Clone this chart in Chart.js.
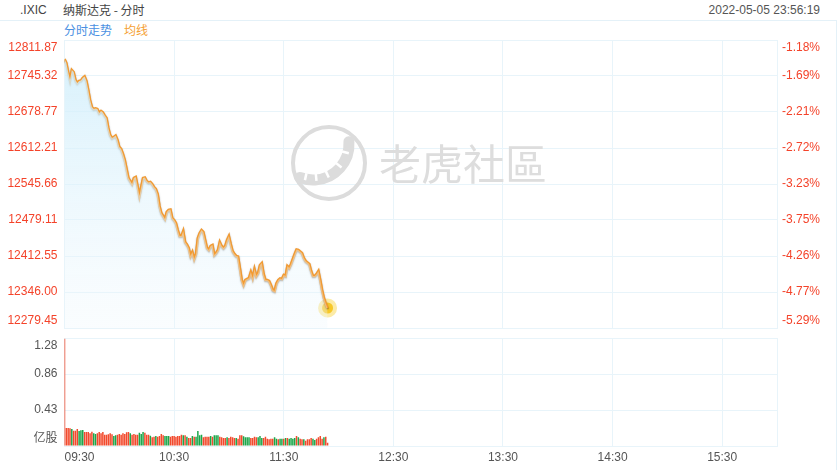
<!DOCTYPE html>
<html>
<head>
<meta charset="utf-8">
<script src="https://cdn.jsdelivr.net/npm/chart.js@4.4.0/dist/chart.umd.min.js"></script>
<style>
  body { margin: 0; background: #fff; width: 840px; height: 470px; overflow: hidden; position: relative;
         font-family: 'Liberation Sans', Arial, 'Noto Sans CJK SC', sans-serif; font-size: 12px; }
  .txt { position: absolute; white-space: nowrap; line-height: 14px; }
  #frame { position: absolute; left: -1px; top: 20px; width: 838px; height: 460px; border: 1px solid #e4f1f8; box-sizing: border-box; }
  canvas { position: absolute; left: 0; top: 0; }
</style>
</head>
<body>
<div id="frame"></div>
<div class="txt" style="left:20px; top:3px; color:#444;">.IXIC</div>
<div class="txt" style="left:63px; top:3px; color:#444; font-family:'Noto Sans CJK SC', sans-serif;">纳斯达克 - 分时</div>
<div class="txt" style="right:20px; top:3px; color:#555;">2022-05-05 23:56:19</div>
<div class="txt" style="left:64px; top:23px; color:#4a90e2; font-family:'Noto Sans CJK SC', sans-serif;">分时走势</div>
<div class="txt" style="left:124px; top:23px; color:#f5a133; font-family:'Noto Sans CJK SC', sans-serif;">均线</div>
<canvas id="price" width="840" height="470"></canvas>
<canvas id="vol" width="840" height="470"></canvas>
<script>
// 时间轴 (分钟, 09:30 = 0)
const timeTickMinutes = [0, 60, 120, 180, 240, 300, 360, 390];
const timeLabels = ['09:30', '10:30', '11:30', '12:30', '13:30', '14:30', '15:30', ''];

const priceTicks = ['12811.87', '12745.32', '12678.77', '12612.21', '12545.66', '12479.11', '12412.55', '12346.00', '12279.45'];
const pctTicks = ['-1.18%', '-1.69%', '-2.21%', '-2.72%', '-3.23%', '-3.75%', '-4.26%', '-4.77%', '-5.29%'];

const volTicks = [1.29, 0.86, 0.43, 0];
const volTickLabels = ['1.28', '0.86', '0.43', '亿股'];

// 每分钟价格
const price = [
  12776.8, 12769.4, 12752.7, 12737.9, 12756.4, 12752.7, 12737.9, 12732.4, 12736.1, 12737.0,
  12741.6, 12744.4, 12736.1, 12719.4, 12700.9, 12688.0, 12684.3, 12685.3, 12684.3, 12676.9,
  12680.6, 12677.9, 12672.3, 12667.7, 12649.2, 12636.2, 12630.7, 12632.5, 12635.3, 12627.0,
  12614.1, 12610.4, 12601.1, 12590.0, 12573.4, 12556.8, 12551.2, 12545.7, 12556.8, 12558.6,
  12542.0, 12523.5, 12540.1, 12556.8, 12557.7, 12551.2, 12548.5, 12549.4, 12545.7, 12540.1,
  12536.4, 12527.2, 12505.0, 12492.1, 12486.5, 12481.0, 12493.9, 12497.6, 12498.5, 12482.8,
  12479.1, 12473.6, 12460.6, 12449.6, 12449.6, 12458.8, 12438.5, 12433.8, 12427.4, 12412.6,
  12420.0, 12407.0, 12416.3, 12445.9, 12455.1, 12460.6, 12457.0, 12442.2, 12427.4, 12423.7,
  12431.1, 12432.9, 12414.4, 12418.1, 12423.7, 12438.5, 12431.1, 12427.4, 12431.1, 12442.2,
  12449.6, 12434.8, 12421.8, 12416.3, 12412.6, 12411.7, 12390.4, 12368.2, 12359.0, 12368.2,
  12370.1, 12371.9, 12383.0, 12371.9, 12388.5, 12375.6, 12381.2, 12395.9, 12399.6, 12379.3,
  12368.2, 12368.2, 12366.4, 12359.0, 12349.7, 12347.9, 12361.7, 12368.2, 12371.0, 12370.1,
  12377.5, 12375.6, 12394.1, 12390.4, 12397.8, 12407.0, 12416.3, 12424.6, 12423.7, 12420.9,
  12418.1, 12408.9, 12403.3, 12400.6, 12397.8, 12384.9, 12375.6, 12375.6, 12379.3, 12384.9,
  12368.2, 12349.7, 12334.9, 12324.8, 12316.4
];

// 每分钟成交量 (亿股)
const volume = [
  1.28, 0.215, 0.215, 0.211, 0.203, 0.183, 0.183, 0.203, 0.179, 0.187,
  0.191, 0.167, 0.167, 0.167, 0.151, 0.171, 0.151, 0.143, 0.151, 0.167,
  0.151, 0.167, 0.135, 0.135, 0.139, 0.151, 0.139, 0.119, 0.127, 0.135,
  0.143, 0.135, 0.151, 0.143, 0.163, 0.167, 0.151, 0.135, 0.143, 0.135,
  0.135, 0.159, 0.143, 0.167, 0.159, 0.135, 0.135, 0.123, 0.104, 0.111,
  0.119, 0.111, 0.119, 0.143, 0.127, 0.119, 0.119, 0.119, 0.111, 0.119,
  0.119, 0.111, 0.119, 0.119, 0.135, 0.127, 0.127, 0.111, 0.096, 0.096,
  0.119, 0.111, 0.111, 0.179, 0.127, 0.135, 0.104, 0.111, 0.111, 0.111,
  0.119, 0.111, 0.127, 0.127, 0.127, 0.111, 0.104, 0.096, 0.096, 0.104,
  0.096, 0.111, 0.104, 0.096, 0.096, 0.088, 0.127, 0.127, 0.115, 0.104,
  0.104, 0.104, 0.096, 0.096, 0.111, 0.104, 0.104, 0.119, 0.096, 0.096,
  0.111, 0.088, 0.080, 0.088, 0.088, 0.104, 0.088, 0.080, 0.088, 0.088,
  0.088, 0.096, 0.096, 0.088, 0.096, 0.088, 0.096, 0.119, 0.104, 0.088,
  0.080, 0.080, 0.064, 0.080, 0.080, 0.096, 0.088, 0.072, 0.088, 0.104,
  0.119, 0.088, 0.104, 0.111, 0.040
];

// 涨跌方向 u = 涨(红), d = 跌(绿)
const volDir = [
  'u','u','u','u','d','u','u','u','d','d',
  'd','u','u','u','u','u','d','d','u','u',
  'u','u','u','u','u','u','u','d','d','u',
  'u','u','u','u','u','u','d','u','u','u',
  'u','d','d','d','u','u','u','d','u','u',
  'd','u','u','u','u','d','d','d','u','u',
  'u','u','u','u','u','d','u','d','u','u',
  'd','u','d','d','d','d','u','u','u','u',
  'd','u','d','d','d','u','u','u','u','d',
  'u','u','u','u','d','u','u','u','d','d',
  'd','d','u','u','u','u','d','d','d','u',
  'u','u','u','u','u','d','d','u','d','d',
  'u','d','u','d','d','d','d','u','d','u',
  'u','d','u','u','u','u','d','d','u','u',
  'u','u','d','u','u'
];

const RED = '#f24a2d';
const GREEN = '#1ca64a';
const GRID = '#e8f4fa';
const PRICE_RED = '#f4432a';

const priceMin = parseFloat(priceTicks[priceTicks.length - 1]);
const priceMax = parseFloat(priceTicks[0]);

// 首尾标签上下错开
function edgeLabel(label, i, n) {
  if (i === 0) return [label, ''];
  if (i === n - 1) return ['', label];
  return label;
}

// 老虎社區 水印
const watermark = {
  id: 'watermark',
  beforeDatasetsDraw(chart) {
    const ctx = chart.ctx;
    ctx.save();
    ctx.strokeStyle = '#dcdcdc';
    ctx.lineWidth = 4;
    ctx.beginPath();
    ctx.arc(329, 163, 36, 0, Math.PI * 2);
    ctx.stroke();
    // 尾巴
    ctx.lineWidth = 11;
    ctx.lineCap = 'round';
    ctx.beginPath();
    ctx.arc(313, 144, 36, -Math.PI * 0.02, Math.PI * 0.62);
    ctx.stroke();
    ctx.strokeStyle = '#fff';
    ctx.lineWidth = 2.5;
    ctx.lineCap = 'butt';
    [0.08, 0.22, 0.36, 0.47, 0.57].forEach(f => {
      const a = Math.PI * f;
      ctx.beginPath();
      ctx.moveTo(313 + Math.cos(a) * 30, 144 + Math.sin(a) * 30);
      ctx.lineTo(313 + Math.cos(a) * 37, 144 + Math.sin(a) * 37);
      ctx.stroke();
    });
    ctx.fillStyle = '#dddddd';
    ctx.font = '42px "Noto Sans CJK SC", sans-serif';
    ctx.textBaseline = 'middle';
    ctx.fillText('老虎社區', 379, 164);
    ctx.restore();
  }
};

const lineShadow = {
  id: 'lineShadow',
  beforeDatasetDraw(chart, args) {
    if (args.index !== 1) return;
    const ctx = chart.ctx;
    ctx.save();
    ctx.shadowColor = 'rgba(60,60,60,0.55)';
    ctx.shadowBlur = 1.5;
    ctx.shadowOffsetY = 1;
  },
  afterDatasetDraw(chart, args) {
    if (args.index !== 1) return;
    chart.ctx.restore();
  }
};

const xy = price.map((p, i) => ({ x: i, y: p }));
const last = price.length - 1;

new Chart(document.getElementById('price'), {
  type: 'line',
  data: {
    datasets: [
      {
        data: xy, borderWidth: 0, pointRadius: 0, fill: 'start',
        backgroundColor: (c) => {
          const { ctx, chartArea } = c.chart;
          if (!chartArea) return 'transparent';
          const g = ctx.createLinearGradient(0, chartArea.top, 0, chartArea.bottom);
          g.addColorStop(0, 'rgba(205,237,251,0.85)');
          g.addColorStop(1, 'rgba(238,248,253,0.3)');
          return g;
        }
      },
      { data: xy, borderColor: '#f39a30', borderWidth: 2.6, pointRadius: 0, tension: 0, fill: false },
      {
        data: [{ x: last, y: price[last] }], showLine: false,
        pointRadius: 5.5, pointBackgroundColor: '#f5b800',
        pointBorderColor: 'rgba(250,215,80,0.5)', pointBorderWidth: 8
      }
    ]
  },
  options: {
    responsive: false, animation: false,
    layout: { padding: { top: 40, bottom: 142, left: 0, right: 0 } },
    plugins: { legend: { display: false }, tooltip: { enabled: false } },
    scales: {
      x: {
        type: 'linear', min: 0, max: 390,
        afterBuildTicks: (axis) => { axis.ticks = timeTickMinutes.map(v => ({ value: v })); },
        afterFit: (axis) => { axis.height = 0; },
        ticks: { display: false },
        grid: { color: GRID, drawTicks: false },
        border: { color: GRID }
      },
      y: {
        position: 'left', min: priceMin, max: priceMax,
        afterBuildTicks: (axis) => { axis.ticks = priceTicks.slice().reverse().map(s => ({ value: parseFloat(s) })); },
        afterFit: (axis) => { axis.width = 64.5; },
        ticks: {
          color: PRICE_RED, padding: 7, font: { size: 12, family: "'Liberation Sans', Arial" },
          callback: (v, i, t) => edgeLabel(priceTicks[t.length - 1 - i], i, t.length)
        },
        grid: { color: GRID, drawTicks: false },
        border: { color: GRID }
      },
      yr: {
        position: 'right', min: priceMin, max: priceMax,
        afterBuildTicks: (axis) => { axis.ticks = priceTicks.slice().reverse().map(s => ({ value: parseFloat(s) })); },
        afterFit: (axis) => { axis.width = 63; },
        ticks: {
          color: PRICE_RED, padding: 5, font: { size: 12, family: "'Liberation Sans', Arial" },
          callback: (v, i, t) => edgeLabel(pctTicks[t.length - 1 - i], i, t.length)
        },
        grid: { display: false, drawTicks: false },
        border: { color: GRID }
      }
    }
  },
  plugins: [watermark, lineShadow]
});

new Chart(document.getElementById('vol'), {
  type: 'bar',
  data: {
    datasets: [{
      data: volume.map((v, i) => ({ x: i, y: v })),
      backgroundColor: volDir.map(d => d === 'u' ? RED : GREEN),
      barPercentage: 1, categoryPercentage: 0.82
    }]
  },
  options: {
    responsive: false, animation: false,
    layout: { padding: { top: 338, bottom: 0, left: 0, right: 63 } },
    plugins: { legend: { display: false }, tooltip: { enabled: false } },
    scales: {
      x: {
        type: 'linear', min: 0, max: 390, offset: false,
        afterBuildTicks: (axis) => { axis.ticks = timeTickMinutes.map(v => ({ value: v })); },
        afterFit: (axis) => { axis.height = 24; },
        ticks: {
          autoSkip: false, maxRotation: 0, align: 'inner', padding: 4, color: '#555',
          font: { size: 12, family: "'Liberation Sans', Arial" },
          callback: (v, i) => timeLabels[i]
        },
        grid: { color: GRID, drawTicks: false, offset: false },
        border: { color: GRID }
      },
      y: {
        min: 0, max: volTicks[0],
        afterBuildTicks: (axis) => { axis.ticks = volTicks.slice().reverse().map(v => ({ value: v })); },
        afterFit: (axis) => { axis.width = 64.5; },
        ticks: {
          color: '#555', padding: 7, font: { size: 12, family: "'Liberation Sans', Arial, 'Noto Sans CJK SC'" },
          callback: (v, i, t) => edgeLabel(volTickLabels[t.length - 1 - i], i, t.length)
        },
        grid: { color: GRID, drawTicks: false },
        border: { color: GRID }
      }
    }
  }
});
</script>
</body>
</html>
